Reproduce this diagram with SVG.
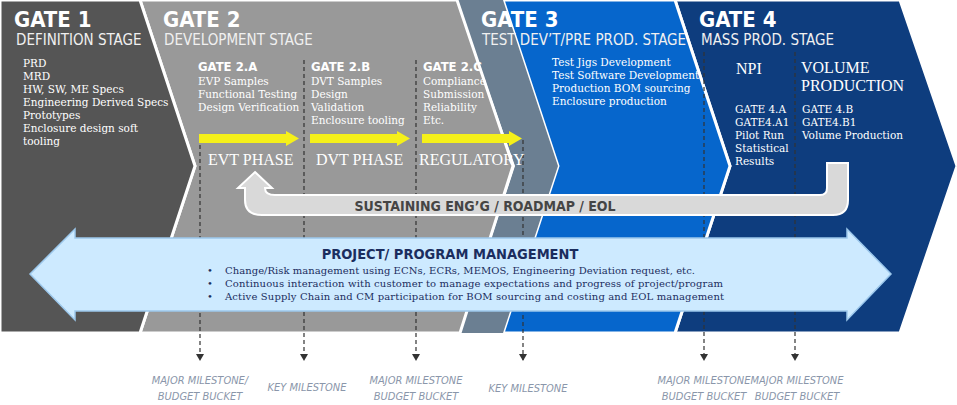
<svg xmlns="http://www.w3.org/2000/svg" width="957" height="405" viewBox="0 0 957 405">
<defs>
<style>
.ttl{font-family:"Liberation Sans Narrow","DejaVu Sans Condensed","Open Sans",sans-serif;font-weight:bold;fill:#fff;font-size:22px}
.stg{font-family:"Liberation Sans Narrow","DejaVu Sans Condensed","Open Sans",sans-serif;fill:#f0f0f0;font-size:15px}
.sub{font-family:"Liberation Sans Narrow","DejaVu Sans Condensed",sans-serif;font-weight:bold;fill:#fff;font-size:13px}
.lst{font-family:"DejaVu Serif","Liberation Serif",serif;fill:#fff;font-size:10.5px}
.ph{font-family:"Liberation Serif",serif;fill:#fff;font-size:16px}
.ms{font-family:"Liberation Sans Narrow","DejaVu Sans Condensed",sans-serif;font-style:italic;fill:#8a96aa;font-size:11px;text-anchor:middle}
.pm{font-family:"DejaVu Serif","Liberation Serif",serif;fill:#1b2d5e;font-size:10px}
.dash{stroke:#333;stroke-width:1.2;stroke-dasharray:4 3;fill:none}
.yel{fill:#f5f01a}
</style>
<marker id="ah" markerWidth="8" markerHeight="8" refX="6" refY="4" orient="auto" markerUnits="userSpaceOnUse"><path d="M0,0 L7,4 L0,8 Z" fill="#333"/></marker>
</defs>
<rect width="957" height="405" fill="#fff"/>
<g id="gate4"><polygon points="675,0 900,0 957,166 900,333 675,333 730,166" fill="#0e3d7e" stroke="#fff" stroke-width="3"/></g>
<g id="gate3"><polygon points="503,0 675,0 730,166 675,333 503,333 558,166" fill="#0666cc" stroke="#fff" stroke-width="3"/></g>
<g id="gate2"><polygon points="457,0 503,0 558,166 503,333 460,333 515,166" fill="#6b7f92"/>
<polygon points="140,0 457,0 513,166 460,333 140,333 195,166" fill="#999999" stroke="#fff" stroke-width="3"/></g>
<g id="gate1"><polygon points="0,0 140,0 195,166 140,333 0,333" fill="#555555" stroke="#fff" stroke-width="3"/></g>

<g id="connectors">
<line class="dash" x1="200" y1="145" x2="200" y2="360" marker-end="url(#ah)"/>
<line class="dash" x1="304" y1="60" x2="304" y2="360" marker-end="url(#ah)"/>
<line class="dash" x1="416" y1="60" x2="416" y2="360" marker-end="url(#ah)"/>
<line class="dash" x1="523" y1="140" x2="523" y2="360" marker-end="url(#ah)"/>
<line class="dash" x1="704" y1="52" x2="704" y2="360" marker-end="url(#ah)"/>
<line class="dash" x1="795" y1="52" x2="795" y2="360" marker-end="url(#ah)"/>
<polygon class="yel" points="199,134 286,134 286,131 299,138.5 286,146 286,143 199,143"/>
<polygon class="yel" points="310,134 397,134 397,131 410,138.5 397,146 397,143 310,143"/>
<polygon class="yel" points="422,134 509,134 509,131 522,138.5 509,146 509,143 422,143"/>
</g>

<g id="sustaining">
<path d="M255,172 L272,188 L265,188 Q265,195 275,195 L820,195 Q827,195 827,188 L827,163 L848,163 L848,200 Q848,215 833,215 L262,215 Q245,215 245,200 L245,188 L238,188 Z" fill="#d9d9d9" stroke="#fff" stroke-width="2"/>
<text x="485" y="211" font-family="Liberation Sans Narrow,DejaVu Sans Condensed,sans-serif" font-weight="bold" font-size="14" fill="#454545" text-anchor="middle">SUSTAINING ENG’G / ROADMAP / EOL</text>
</g>

<g id="pm">
<polygon points="30,274 75,229 75,238 847,238 847,229 891,274 847,320 847,311 75,311 75,320" fill="#cdeaff" stroke="#9cc8ec" stroke-width="1.5"/>
<text x="450" y="259" font-family="Liberation Sans Narrow,DejaVu Sans Condensed,sans-serif" font-weight="bold" font-size="14.5" fill="#1b2d5e" text-anchor="middle">PROJECT/ PROGRAM MANAGEMENT</text>
<text class="pm" x="207" y="274">•</text><text class="pm" x="225" y="274" textLength="470">Change/Risk management using ECNs, ECRs, MEMOS, Engineering Deviation request, etc.</text>
<text class="pm" x="207" y="287">•</text><text class="pm" x="225" y="287" textLength="498">Continuous interaction with customer to manage expectations and progress of project/program</text>
<text class="pm" x="207" y="300">•</text><text class="pm" x="225" y="300" textLength="499">Active  Supply Chain  and CM participation for BOM sourcing and costing and EOL management</text>
</g>

<g id="t1">
<text class="ttl" x="14" y="27">GATE 1</text>
<text class="stg" x="16" y="45">DEFINITION STAGE</text>
<text class="lst" x="23" y="67">PRD</text>
<text class="lst" x="23" y="80">MRD</text>
<text class="lst" x="23" y="93">HW, SW, ME Specs</text>
<text class="lst" x="23" y="106">Engineering Derived Specs</text>
<text class="lst" x="23" y="119">Prototypes</text>
<text class="lst" x="23" y="132">Enclosure design soft</text>
<text class="lst" x="23" y="145">tooling</text>
</g>
<g id="t2">
<text class="ttl" x="163" y="27">GATE 2</text>
<text class="stg" x="164" y="45">DEVELOPMENT STAGE</text>
<text class="sub" x="198" y="71">GATE 2.A</text>
<text class="lst" x="198" y="85">EVP Samples</text>
<text class="lst" x="198" y="98">Functional Testing</text>
<text class="lst" x="198" y="111">Design Verification</text>
<text class="sub" x="311" y="71">GATE 2.B</text>
<text class="lst" x="311" y="85">DVT Samples</text>
<text class="lst" x="311" y="98">Design</text>
<text class="lst" x="311" y="111">Validation</text>
<text class="lst" x="311" y="124">Enclosure tooling</text>
<text class="sub" x="423" y="71">GATE 2.C</text>
<text class="lst" x="423" y="85">Compliance</text>
<text class="lst" x="423" y="98">Submission</text>
<text class="lst" x="423" y="111">Reliability</text>
<text class="lst" x="423" y="124">Etc.</text>
<text class="ph" x="208" y="165">EVT PHASE</text>
<text class="ph" x="316" y="165">DVT PHASE</text>
<text class="ph" x="419" y="165">REGULATORY</text>
</g>
<g id="t3">
<text class="ttl" x="481" y="27">GATE 3</text>
<text class="stg" x="482" y="45">TEST DEV’T/PRE PROD. STAGE</text>
<text class="lst" x="552" y="66">Test Jigs Development</text>
<text class="lst" x="552" y="79">Test Software Development</text>
<text class="lst" x="552" y="92">Production BOM sourcing</text>
<text class="lst" x="552" y="105">Enclosure  production</text>
</g>
<g id="t4">
<text class="ttl" x="699" y="27">GATE 4</text>
<text class="stg" x="701" y="45">MASS PROD. STAGE</text>
<text class="ph" x="736" y="74">NPI</text>
<text class="ph" x="801" y="73">VOLUME</text>
<text class="ph" x="801" y="91">PRODUCTION</text>
<text class="lst" x="735" y="113">GATE 4.A</text>
<text class="lst" x="735" y="126">GATE4.A1</text>
<text class="lst" x="735" y="139">Pilot Run</text>
<text class="lst" x="735" y="152">Statistical</text>
<text class="lst" x="735" y="165">Results</text>
<text class="lst" x="802" y="113">GATE 4.B</text>
<text class="lst" x="802" y="126">GATE4.B1</text>
<text class="lst" x="802" y="139">Volume Production</text>
</g>
<g id="labels">
<text class="ms" x="200" y="384">MAJOR MILESTONE/</text><text class="ms" x="200" y="400">BUDGET BUCKET</text>
<text class="ms" x="307" y="391">KEY MILESTONE</text>
<text class="ms" x="416" y="384">MAJOR MILESTONE</text><text class="ms" x="416" y="400">BUDGET BUCKET</text>
<text class="ms" x="528" y="392">KEY MILESTONE</text>
<text class="ms" x="704" y="384">MAJOR MILESTONE</text><text class="ms" x="704" y="400">BUDGET BUCKET</text>
<text class="ms" x="797" y="384">MAJOR MILESTONE</text><text class="ms" x="797" y="400">BUDGET BUCKET</text>
</g>
</svg>
